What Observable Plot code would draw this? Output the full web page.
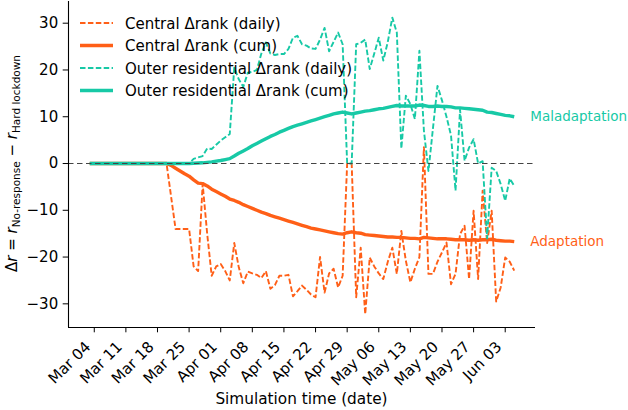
<!DOCTYPE html>
<html><head><meta charset="utf-8">
<script src="https://cdn.jsdelivr.net/npm/d3@7"></script>
<script src="https://cdn.jsdelivr.net/npm/@observablehq/plot@0.6"></script>
<style>
html,body{margin:0;padding:0;background:#fff;}
#chart{position:relative;width:628px;height:410px;}
</style></head><body><div id="chart"></div>
<script>
const startDate = "2020-03-03";
const centralDaily = [0,0,0,0,0,0,0,0,0,0, 0,0,0,0,0,0,0,0,-7,-14,
 -14,-14,-14,-22,-23,-4.4,-15,-24,-22,-21.5,
 -23,-25,-17,-22.2,-25.6,-23.1,-23.5,-23.8,-24.5,-23,
 -26.8,-26,-24,-24,-23.8,-28.4,-27.3,-26.1,-27,-28,
 -28.6,-20,-27.6,-23.5,-22.5,-26.5,-24,0,0,-28.6,
 -18,-32.2,-20.1,-22,-23.5,-24.7,-21,-18,-23.6,-14.4,
 -20.8,-25.4,-22.5,-20,3.5,-23.6,-23.6,-21,-19,-16.9,
 -25.8,-23.6,-15.1,-13.3,-24.7,-10.1,-24.7,-5.8,-17,-10.1,
 -29.5,-26.5,-20.1,-21,-22.9];
const centralCum = [0,0,0,0,0,0,0,0,0,0, 0,0,0,0,0,0,0,0,-0.4,-1.0,
 -1.6,-2.2,-2.7,-3.5,-4.2,-4.3,-4.8,-5.5,-6.0,-6.5,
 -7.0,-7.6,-7.9,-8.3,-8.8,-9.2,-9.6,-10.0,-10.4,-10.7,
 -11.1,-11.4,-11.7,-12.0,-12.3,-12.6,-12.9,-13.2,-13.5,-13.8,
 -14.0,-14.2,-14.4,-14.6,-14.8,-15.0,-15.1,-14.8,-14.6,-14.8,
 -14.9,-15.2,-15.3,-15.4,-15.5,-15.6,-15.7,-15.7,-15.8,-15.8,
 -15.9,-16.0,-16.0,-16.1,-15.8,-15.9,-16.0,-16.1,-16.1,-16.1,
 -16.2,-16.3,-16.3,-16.3,-16.4,-16.3,-16.4,-16.3,-16.3,-16.2,
 -16.4,-16.5,-16.6,-16.6,-16.7];
const outerDaily = [0,0,0,0,0,0,0,0,0,0, 0,0,0,0,0,0,0,0,0,0,
 0,0,0,1.0,1.3,1.6,3.2,3.1,4.0,4.9,
 5.6,6.3,20.5,18,16.4,19.4,19.6,20,23.5,25.9,
 23.5,23.2,23.4,23.4,24.5,26.9,27.3,25.5,25.2,24.6,
 24.5,26.5,29,24,26,28,25.5,0,0,25.5,
 25.8,26.5,20.2,23.5,26.9,22,26,31.2,28,3.2,
 14.5,12.7,9.5,24.1,7,-1.6,7.5,16.6,13.5,10,
 6,-5.8,11.5,0.6,3.4,5.2,0,0.5,-16,-0.9,
 -1.6,-4.4,-8,-3.2,-4.8];
const outerCum = [0,0,0,0,0,0,0,0,0,0, 0,0,0,0,0,0,0,0,0,0,
 0,0,0,0.05,0.1,0.15,0.25,0.35,0.5,0.65,
 0.85,1.05,1.6,2.2,2.7,3.2,3.8,4.3,4.8,5.3,
 5.8,6.2,6.7,7.1,7.5,7.9,8.2,8.5,8.8,9.1,
 9.4,9.7,10.0,10.3,10.6,10.8,11.0,10.8,10.6,10.8,
 11.0,11.2,11.3,11.5,11.7,11.8,12.0,12.2,12.4,12.3,
 12.3,12.3,12.3,12.5,12.4,12.2,12.2,12.3,12.2,12.2,
 12.1,11.9,11.9,11.8,11.7,11.6,11.5,11.4,11.0,10.9,
 10.7,10.5,10.3,10.2,10.0];
const tickDates = ["2020-03-04","2020-03-11","2020-03-18","2020-03-25","2020-04-01","2020-04-08","2020-04-15","2020-04-22","2020-04-29","2020-05-06","2020-05-13","2020-05-20","2020-05-27","2020-06-03"];
const yTicks = [-30,-20,-10,0,10,20,30];
const seriesNames = ["Central Δrank (daily)","Central Δrank (cum)","Outer residential Δrank (daily)","Outer residential Δrank (cum)"];
const annotationLabels = ["Maladaptation","Adaptation"];
const xLabel = "Simulation time (date)";

const ORANGE = "#ff5f17", TEAL = "#17c9a6";
const FONT = '"DejaVu Sans", sans-serif';
const t0 = Date.parse(startDate);
const rows = centralDaily.map((v,i)=>({date:new Date(t0+i*864e5), cd:v, cc:centralCum[i], od:outerDaily[i], oc:outerCum[i]}));
const last = rows[rows.length-1];
const annoRows = [
  {date:last.date, value:last.oc, label:annotationLabels[0], color:TEAL},
  {date:last.date, value:last.cc, label:annotationLabels[1], color:ORANGE}
];
const tickObjs = tickDates.map(s=>new Date(Date.parse(s)));
const fmt = d3.utcFormat("%b %d");
const xDomain = [new Date(Date.UTC(2020,1,27,7)), new Date(Date.UTC(2020,5,9,17))];
const yDomain = [-35.06, 34.64];
const dash = {strokeWidth:1.9, strokeDasharray:"5.5,2.4", strokeLinecap:"butt", strokeLinejoin:"round"};

const chart = Plot.plot({
  width:628, height:410, marginLeft:68, marginRight:93, marginTop:1, marginBottom:83,
  style:{fontFamily:FONT, fontSize:"15px", color:"#000", background:"#fff"},
  x:{type:"utc", domain:xDomain},
  y:{domain:yDomain},
  marks:[
    Plot.line(rows,{x:"date",y:"cd",stroke:ORANGE,...dash}),
    Plot.line(rows,{x:"date",y:"cc",stroke:ORANGE,strokeWidth:3.4,strokeLinecap:"butt"}),
    Plot.line(rows,{x:"date",y:"od",stroke:TEAL,...dash}),
    Plot.line(rows,{x:"date",y:"oc",stroke:TEAL,strokeWidth:3.4,strokeLinecap:"butt"}),
    Plot.ruleY([0],{stroke:"#444",strokeWidth:1.2,strokeDasharray:"5.5,3.5"}),
    Plot.ruleX([xDomain[0]],{stroke:"#000",strokeWidth:1.1}),
    Plot.ruleY([yDomain[0]],{stroke:"#000",strokeWidth:1.1}),
    Plot.axisY({ticks:yTicks,tickSize:5.3,tickPadding:5,fontSize:15,label:null,
      tickFormat:d=>d<0?"\u2212"+(-d):String(d)}),
    Plot.axisX({ticks:tickObjs,tickFormat:()=>"",tickSize:5.3,label:null}),
    Plot.text(tickObjs,{x:d=>d,frameAnchor:"bottom",text:d=>fmt(d),rotate:-45,textAnchor:"end",
      lineAnchor:"middle",dx:-6.2,dy:16.8,fontSize:15,fill:"#000"}),
    Plot.text(annoRows,{x:"date",y:"value",text:"label",fill:"color",dx:16,textAnchor:"start",fontSize:13.5})
  ]
});
document.getElementById("chart").appendChild(chart);

const svg = d3.select(chart);
// x label
svg.append("text").attr("x",301.5).attr("y",404).attr("text-anchor","middle")
  .attr("font-family",FONT).attr("font-size",15.3).attr("fill","#000").text(xLabel);
// y label
const yl = svg.append("text").attr("transform","translate(17,163.5) rotate(-90)")
  .attr("text-anchor","middle").attr("font-family",FONT).attr("font-size",15).attr("fill","#000");
yl.append("tspan").text("Δ");
yl.append("tspan").attr("font-style","italic").text("r");
yl.append("tspan").text(" = ");
yl.append("tspan").attr("font-style","italic").text("r");
yl.append("tspan").attr("font-size",10.5).attr("dy",3).text("No-response");
yl.append("tspan").attr("dy",-3).text(" \u2212 ");
yl.append("tspan").attr("font-style","italic").text("r");
yl.append("tspan").attr("font-size",10.5).attr("dy",3).text("Hard lockdown");
// legend
const legendStyles = [
  {color:ORANGE, dashed:true},{color:ORANGE, dashed:false},
  {color:TEAL, dashed:true},{color:TEAL, dashed:false}
];
const lg = svg.append("g");
seriesNames.forEach((name,i)=>{
  const cy = 23 + i*22.5;
  const s = legendStyles[i];
  lg.append("line").attr("x1",80).attr("x2",113).attr("y1",cy).attr("y2",cy)
    .attr("stroke",s.color).attr("stroke-width",s.dashed?1.9:3.4)
    .attr("stroke-dasharray",s.dashed?"5.5,2.4":null);
  lg.append("text").attr("x",125).attr("y",cy+5.5).attr("text-anchor","start").attr("font-family",FONT)
    .attr("font-size",15).attr("fill","#000").text(name);
});
</script></body></html>
